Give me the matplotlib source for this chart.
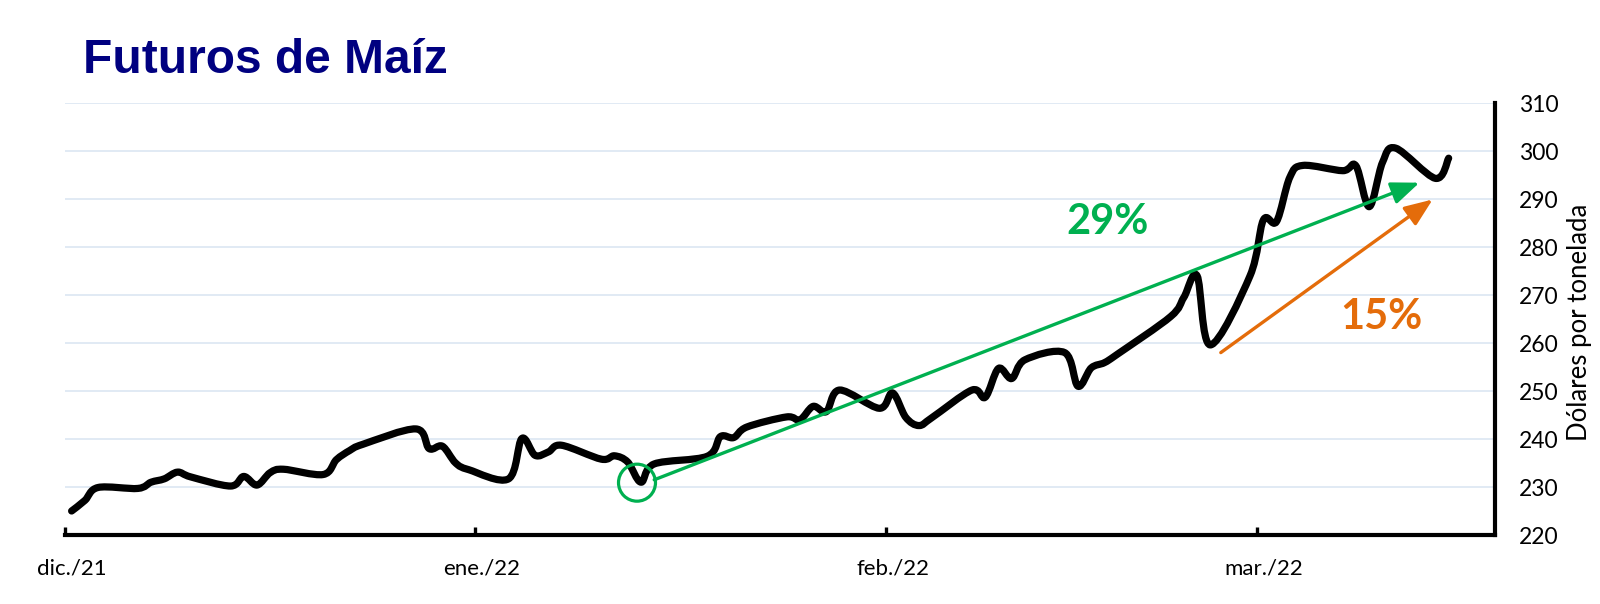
import matplotlib
matplotlib.use("Agg")
import matplotlib.pyplot as plt
import matplotlib.dates as mdates
from matplotlib.path import Path
from matplotlib.patches import PathPatch, Ellipse, FancyArrowPatch
import numpy as np
import pandas as pd

# ---------------- data ----------------
dates = [
    "2021-12-01", "2021-12-02", "2021-12-03", "2021-12-06", "2021-12-07", "2021-12-08",
    "2021-12-09", "2021-12-10", "2021-12-13", "2021-12-14", "2021-12-15", "2021-12-16",
    "2021-12-17", "2021-12-20", "2021-12-21", "2021-12-22", "2021-12-23", "2021-12-27",
    "2021-12-28", "2021-12-29", "2021-12-30", "2021-12-31", "2022-01-03", "2022-01-04",
    "2022-01-05", "2022-01-06", "2022-01-07", "2022-01-10", "2022-01-11", "2022-01-12",
    "2022-01-13", "2022-01-14", "2022-01-18", "2022-01-19", "2022-01-20", "2022-01-21",
    "2022-01-24", "2022-01-25", "2022-01-26", "2022-01-27", "2022-01-28", "2022-01-31",
    "2022-02-01", "2022-02-02", "2022-02-03", "2022-02-04", "2022-02-07", "2022-02-08",
    "2022-02-09", "2022-02-10", "2022-02-11", "2022-02-14", "2022-02-15", "2022-02-16",
    "2022-02-17", "2022-02-18", "2022-02-22", "2022-02-23", "2022-02-24", "2022-02-25",
    "2022-02-28", "2022-03-01", "2022-03-02", "2022-03-03", "2022-03-04", "2022-03-07",
    "2022-03-08", "2022-03-09", "2022-03-10", "2022-03-11", "2022-03-14", "2022-03-15",
]
prices = [
    225.0, 227.2, 229.9, 229.7, 231.0, 231.7,
    233.1, 232.1, 230.2, 232.2, 230.4, 233.0,
    233.7, 232.6, 235.7, 237.6, 238.9, 242.1,
    238.0, 238.5, 235.0, 233.6, 231.7, 240.1,
    236.6, 237.3, 238.7, 235.8, 236.5, 235.2,
    231.0, 234.8, 236.4, 240.5, 240.3, 242.5,
    244.6, 244.0, 246.8, 245.7, 250.2, 246.4,
    249.6, 244.5, 242.8, 244.5, 250.2, 248.7,
    254.7, 252.6, 256.5, 258.0, 251.0, 254.8,
    255.9, 257.7, 265.5, 269.5, 274.0, 259.6,
    274.0, 285.6, 285.3, 294.5, 297.0, 295.9,
    296.9, 288.4, 297.6, 300.6, 294.3, 298.5,
]
month_ticks = ["2021-12-01", "2022-01-01", "2022-02-01", "2022-03-01"]
month_labels = ["dic./21", "ene./22", "feb./22", "mar./22"]
y_ticks = [220, 230, 240, 250, 260, 270, 280, 290, 300, 310]

# annotation anchors (date, value)
circle_point = ("2022-01-13", 230.9)
green_arrow = (("2022-01-14 12:00", 231.5), ("2022-03-13 07:00", 293.4))
orange_arrow = (("2022-02-26 07:00", 258.0), ("2022-03-14 07:00", 289.9))
green_label = ("29%", "2022-02-17 18:00", 285.2)
orange_label = ("15%", "2022-03-10 10:00", 265.4)

GREEN = "#00B050"
ORANGE = "#E46C0A"
NAVY = "#000080"

# ---------------- figure ----------------
W, H, DPI = 1600, 604, 100
fig = plt.figure(figsize=(W / DPI, H / DPI), dpi=DPI)
L, R, B, T = 65, 1495, 535, 103
ax = fig.add_axes([L / W, 1 - B / H, (R - L) / W, (B - T) / H])

half_day = 0.5
xs = mdates.date2num(pd.to_datetime(dates)) + half_day
ys = np.array(prices, dtype=float)

# smoothed line (Excel-like Bezier smoothing)
P = np.column_stack([xs, ys])
n = len(P)
verts = [P[0]]
codes = [Path.MOVETO]
for i in range(n - 1):
    p0 = P[i - 1] if i > 0 else P[i]
    p1 = P[i]
    p2 = P[i + 1]
    p3 = P[i + 2] if i + 2 < n else P[i + 1]
    c1 = p1 + (p2 - p0) / 6.0
    c2 = p2 - (p3 - p1) / 6.0
    verts += [c1, c2, p2]
    codes += [Path.CURVE4] * 3
path = Path(np.array(verts), codes)
ax.add_patch(PathPatch(path, fill=False, edgecolor="black", lw=5.2,
                       capstyle="round", joinstyle="round", zorder=3))
ax.plot(xs, ys, alpha=0)

# axes limits
x0 = mdates.date2num(pd.Timestamp("2021-12-01"))
ax.set_xlim(x0, x0 + 108)
ax.set_ylim(220, 310)

# grid
ax.set_yticks(y_ticks)
ax.yaxis.grid(True, color="#DCE6F2", lw=1.2, zorder=0)
ax.xaxis.grid(False)
ax.set_axisbelow(True)

# spines
for s in ["left", "top"]:
    ax.spines[s].set_visible(False)
for s in ["right", "bottom"]:
    ax.spines[s].set_color("black")
    ax.spines[s].set_linewidth(3.0)
    ax.spines[s].set_capstyle("projecting")

# y axis on right
ax.yaxis.tick_right()
ax.tick_params(axis="y", length=0, pad=17, labelsize=16.5)
for lab in ax.get_yticklabels():
    lab.set_family(["Lato", "DejaVu Sans"])

# x ticks: month boundaries (marks), labels at the first day's centre
mt = mdates.date2num(pd.to_datetime(month_ticks))
ax.set_xticks(mt)
ax.set_xticklabels([])
ax.tick_params(axis="x", which="major", direction="in", length=6, width=2.4, color="black")
ax.set_xticks(mt + half_day, minor=True)
ax.set_xticklabels(month_labels, minor=True)
ax.tick_params(axis="x", which="minor", length=0, pad=17, labelsize=16)
for lab in ax.get_xticklabels(minor=True):
    lab.set_family(["Lato", "DejaVu Sans"])

# y label
fig.text(1580 / W, 1 - 322 / H, "Dólares por tonelada", rotation=90,
         ha="center", va="center", fontsize=18.5, family=["Lato", "DejaVu Sans"])

# title
fig.text(83 / W, 1 - 73 / H, "Futuros de Maíz", fontsize=34.5, weight="bold",
         color=NAVY, family=["Liberation Sans", "DejaVu Sans"], va="baseline", ha="left")

# green circle around the January low
cx = mdates.date2num(pd.Timestamp(circle_point[0])) + 0.2
ax.add_patch(Ellipse((cx, circle_point[1]), width=37 / 13.245, height=37 / 4.8,
                     fill=False, edgecolor=GREEN, lw=2.3, zorder=4))

def arrow(spec, color):
    (d0, v0), (d1, v1) = spec
    a = (mdates.date2num(pd.Timestamp(d0)), v0)
    b = (mdates.date2num(pd.Timestamp(d1)), v1)
    ax.add_patch(FancyArrowPatch(a, b, arrowstyle="-|>,head_length=0.85,head_width=0.34",
                                 mutation_scale=20, color=color, lw=2.4,
                                 shrinkA=0, shrinkB=0, zorder=4))

arrow(green_arrow, GREEN)
arrow(orange_arrow, ORANGE)

for (txt, d, v), col in [(green_label, GREEN), (orange_label, ORANGE)]:
    ax.text(mdates.date2num(pd.Timestamp(d)), v, txt, color=col, fontsize=30,
            weight="bold", ha="center", va="center", family=["Lato", "DejaVu Sans"], zorder=5)

fig.savefig("out.png", dpi=DPI)
